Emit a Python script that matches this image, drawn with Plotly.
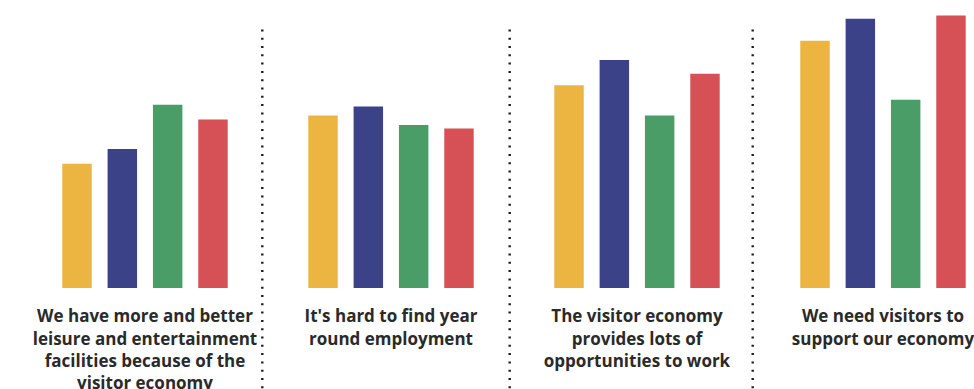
import plotly.graph_objects as go

# Statements (x-axis groups)
statements = [
    "We have more and better<br>leisure and entertainment<br>facilities because of the<br>visitor economy",
    "It's hard to find year<br>round employment",
    "The visitor economy<br>provides lots of<br>opportunities to work",
    "We need visitors to<br>support our economy",
]
group_pos = [0, 1, 2, 3]

# Share agreeing (%) for each of the four respondent groups
series_a = [34.5, 47.9, 56.3, 68.7]
series_b = [38.6, 50.4, 63.3, 74.8]
series_c = [50.9, 45.3, 47.9, 52.3]
series_d = [46.8, 44.3, 59.5, 75.7]

colors = ["#ECB441", "#3B4287", "#4A9D67", "#D65156"]

fig = go.Figure()
for vals, col in zip([series_a, series_b, series_c, series_d], colors):
    fig.add_trace(go.Bar(x=group_pos, y=vals, marker=dict(color=col, line=dict(width=0)),
                         showlegend=False, hoverinfo="y"))

# Dotted separators between statement groups
for xp in [0.2693, 0.5233, 0.7728]:
    fig.add_shape(type="line", xref="paper", yref="paper", x0=xp, x1=xp, y0=0.898, y1=-0.4,
                  line=dict(color="#1a1a1a", width=2.4, dash="2px,6.3px"))

fig.update_layout(
    width=974, height=389,
    margin=dict(l=0, r=0, t=0, b=101, autoexpand=False),
    plot_bgcolor="white", paper_bgcolor="white",
    barmode="group", bargap=0.263, bargroupgap=0.35,
    xaxis=dict(range=[-0.5894, 3.3699], tickmode="array", tickvals=group_pos, ticktext=statements,
               showgrid=False, zeroline=False, showline=False, ticklabeloverflow="allow",
               automargin=False,
               ticks="outside", ticklen=13, tickcolor="rgba(0,0,0,0)",
               tickfont=dict(family="Open Sans", size=17, color="#2a2a2a", weight="bold")),
    yaxis=dict(range=[0, 80], visible=False, showgrid=False, zeroline=False, automargin=False),
)

fig.write_html("out.html")
